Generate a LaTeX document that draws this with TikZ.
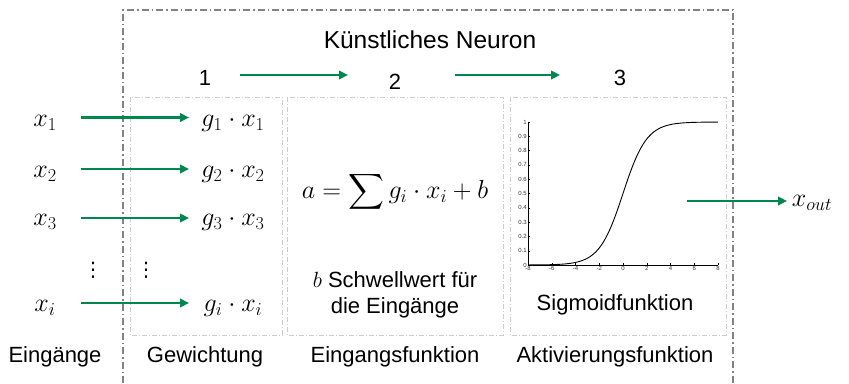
\RequirePackage{fix-cm}
\documentclass[tikz,border=0pt]{standalone}
\usepackage{exscale}
\usepackage{fontspec}
\setmainfont{Liberation Sans}
\newfontfamily\symfont{DejaVu Sans}
\usetikzlibrary{arrows.meta}
\definecolor{arrgreen}{RGB}{0,135,80}
\definecolor{outergray}{RGB}{130,130,130}
\definecolor{innergray}{RGB}{205,205,205}
\tikzset{
  outerbox/.style={draw=outergray, line width=1.4pt, dash pattern=on 7pt off 3pt on 1.5pt off 3pt},
  innerbox/.style={draw=innergray, line width=0.9pt, dash pattern=on 5pt off 2pt on 1pt off 2pt},
  garrow/.style={draw=arrgreen, line width=2.8pt, -{Triangle[length=9pt,width=8.5pt]}},
  lbl/.style={font=\fontsize{22}{26}\selectfont, inner sep=0pt},
  ttl/.style={font=\fontsize{24.5}{28}\selectfont, inner sep=0pt},
  mth/.style={font=\fontsize{26}{30}\selectfont, inner sep=0pt},
  dts/.style={font=\symfont\fontsize{20}{24}\selectfont, inner sep=0pt},
  tick/.style={font=\fontsize{6}{7}\selectfont, text=black!80, inner sep=1pt}
}
\begin{document}
\begin{tikzpicture}[x=1pt,y=-1pt]
\useasboundingbox (0,0) rectangle (849,383);
% outer box (bottom cut off)
\draw[outerbox] (123,383) -- (123,10) -- (733,10) -- (733,383);
% inner boxes
\draw[innerbox] (130,97) rectangle (282,335);
\draw[innerbox] (287,97) rectangle (503,335);
\draw[innerbox] (510,97) rectangle (726,335);
% title and step numbers
\node[ttl] (title) at (430,40) {Künstliches Neuron};
\node[lbl] (n1) at (205,78) {1};
\node[lbl] (n2) at (395,82) {2};
\node[lbl] (n3) at (620,78) {3};
\coordinate (s1) at (240,75);
\coordinate (e1) at (348,75);
\coordinate (s2) at (455,75);
\coordinate (e2) at (560,75);
\draw[garrow] (s1) -- (e1);
\draw[garrow] (s2) -- (e2);
% inputs
\node[mth] (x1) at (45,123) {$x_1$};
\node[mth] (x2) at (45,174) {$x_2$};
\node[mth] (x3) at (45,222) {$x_3$};
\node[dts] (xd) at (93,270) {⋮};
\node[mth] (xi) at (45,308) {$x_i$};
\node[mth] (g1) at (233,123) {$g_1\cdot x_1$};
\node[mth] (g2) at (233,174) {$g_2\cdot x_2$};
\node[mth] (g3) at (233,222) {$g_3\cdot x_3$};
\node[dts] (gd) at (146,270) {⋮};
\node[mth] (gi) at (233,308) {$g_i\cdot x_i$};
\foreach \a/\y in {1/117.5,2/169,3/218,i/303}{
  \coordinate (in\a) at (81,\y);
  \coordinate (out\a) at (189,\y);
  \draw[garrow] (in\a) -- (out\a);
}
% formula
\node[mth] (formula) at (395,192) {$a=\displaystyle\sum g_i\cdot x_i+b$};
\node[lbl, align=center] (bias) at (395,295) {$b$ Schwellwert für\\die Eingänge};
% sigmoid plot
\begin{scope}
\draw[line width=0.6pt] (528,122) -- (528,265) -- (718,265);
\foreach \v/\l in {0/0,1/0.1,2/0.2,3/0.3,4/0.4,5/0.5,6/0.6,7/0.7,8/0.8,9/0.9,10/1}{
  \draw[line width=0.4pt] (528,{265-14.3*\v}) -- (530,{265-14.3*\v});
  \node[tick, anchor=east] at (528,{265-14.3*\v}) {\l};
}
\foreach \t in {-8,-6,-4,-2,0,2,4,6,8}{
  \draw[line width=0.4pt] ({528+(\t+8)*190/16},265) -- ({528+(\t+8)*190/16},263);
  \node[tick, anchor=north] at ({528+(\t+8)*190/16},265) {\t};
}
\draw[line width=0.9pt, smooth, samples=120, domain=-8:8, variable=\t]
  plot ({528+(\t+8)*190/16},{265-143/(1+exp(-\t))});
\end{scope}
\node[lbl] (sig) at (615,305) {Sigmoidfunktion};
% output
\node[mth] (xout) at (812,203) {$x_{out}$};
\coordinate (os) at (687,201);
\coordinate (oe) at (787,201);
\draw[garrow] (os) -- (oe);
% bottom labels
\node[lbl] (l1) at (55,357) {Eingänge};
\node[lbl] (l2) at (205,357) {Gewichtung};
\node[lbl] (l3) at (395,357) {Eingangsfunktion};
\node[lbl] (l4) at (615,357) {Aktivierungsfunktion};
\end{tikzpicture}
\end{document}
